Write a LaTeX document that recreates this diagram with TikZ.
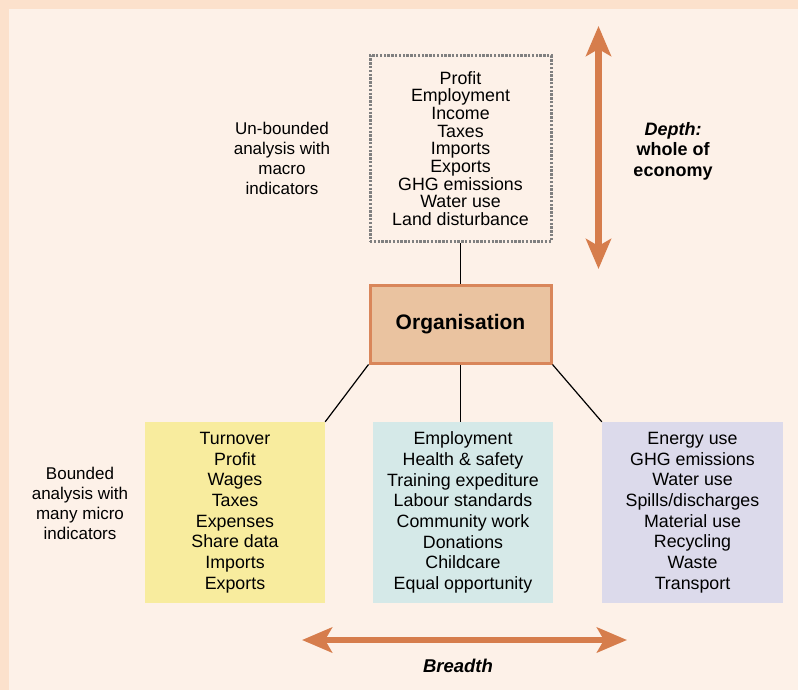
\documentclass[tikz,border=0pt]{standalone}
\usepackage{fontspec}
\setmainfont{Liberation Sans}
\usetikzlibrary{arrows.meta}

\definecolor{pagebg}{HTML}{FDF1E8}
\definecolor{pagestrip}{HTML}{FCE1CC}
\definecolor{orgfill}{HTML}{EAC3A0}
\definecolor{orgline}{HTML}{D9865A}
\definecolor{arrowc}{HTML}{D67D4C}
\definecolor{finfill}{HTML}{F8EC9E}
\definecolor{socfill}{HTML}{D5E9E8}
\definecolor{envfill}{HTML}{DCDAEB}
\definecolor{dotgrey}{HTML}{808080}

\tikzset{
  listbox/.style={minimum width=180pt, minimum height=181pt, inner sep=0pt,
    align=center, font=\fontsize{17.8}{20.7}\selectfont},
  sidetext/.style={align=center, font=\fontsize{17}{20}\selectfont},
  bigarrow/.style={arrowc, line width=6.5pt,
    {Stealth[length=30pt,width=25pt,inset=7pt]}-{Stealth[length=30pt,width=25pt,inset=7pt]}}
}

\begin{document}
\begin{tikzpicture}[x=1pt,y=-1pt]
%background
\useasboundingbox (0,0) rectangle (798,690);
\fill[pagestrip] (0,0) rectangle (798,690);
\fill[pagebg] (9,9) rectangle (798,690);

%macro indicators
\node[draw=dotgrey, line width=3pt, dash pattern=on 2.4pt off 1.4pt,
  minimum width=181pt, minimum height=186pt, inner sep=0pt, align=center,
  font=\fontsize{17.8}{17.7}\selectfont] (macro) at (460.5,148.5)
  {Profit\\Employment\\Income\\Taxes\\Imports\\Exports\\GHG emissions\\Water use\\Land disturbance};
\node[sidetext] (unbounded) at (282,158) {Un-bounded\\analysis with\\macro\\indicators};

%organisation
\node[draw=orgline, fill=orgfill, line width=3pt, minimum width=181pt, minimum height=78pt,
  font=\fontsize{21}{24}\bfseries] (org) at (460.5,324) {Organisation};

%micro indicators
\node[listbox, fill=finfill] (fin) at (235,512.5)
  {Turnover\\Profit\\Wages\\Taxes\\Expenses\\Share data\\Imports\\Exports};
\node[listbox, fill=socfill] (soc) at (463,512.5)
  {Employment\\Health \& safety\\Training expediture\\Labour standards\\Community work\\Donations\\Childcare\\Equal opportunity};
\node[listbox, fill=envfill, minimum width=181pt] (env) at (692.5,512.5)
  {Energy use\\GHG emissions\\Water use\\Spills/discharges\\Material use\\Recycling\\Waste\\Transport};
\node[sidetext] (bounded) at (80,503) {Bounded\\analysis with\\many micro\\indicators};

%links
\draw[line width=1.2pt] (macro.south) -- (org.north);
\draw[line width=1.2pt] (org.south west) -- (fin.north east);
\draw[line width=1.2pt] (org.south) -- (org.south |- soc.north);
\draw[line width=1.2pt] (org.south east) -- (env.north west);

%depth and breadth
\coordinate (dtop) at (598.5,26);
\coordinate (dbot) at (598.5,269);
\draw[bigarrow] (dtop) -- (dbot);
\node[align=center, font=\fontsize{18}{20.5}\bfseries] (depth) at (673,151)
  {\textit{Depth:}\\whole of\\economy};
\coordinate (bleft) at (302,640);
\coordinate (bright) at (627,640);
\draw[bigarrow] (bleft) -- (bright);
\node[font=\fontsize{18.5}{20}\bfseries\itshape] (breadth) at (458,666) {Breadth};
\end{tikzpicture}
\end{document}
